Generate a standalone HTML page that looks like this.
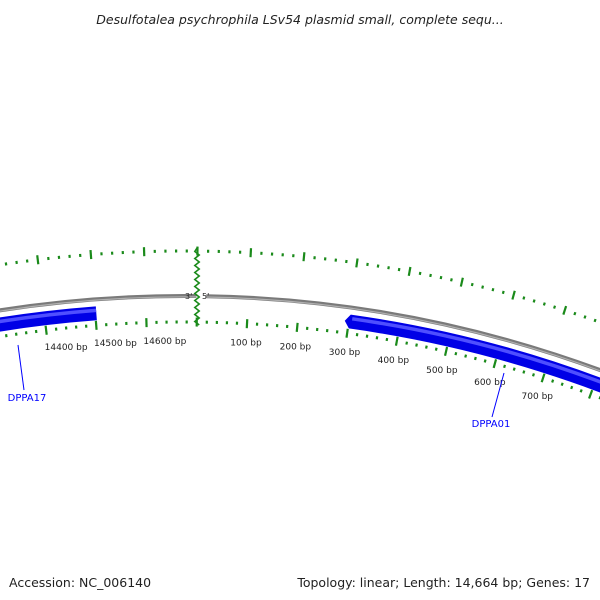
<!DOCTYPE html>
<html><head><meta charset="utf-8"><style>
body{margin:0;background:#fff}
svg{display:block;font-family:"DejaVu Sans","Liberation Sans",sans-serif}
</style></head><body>
<svg id="c" width="600" height="600" viewBox="0 0 600 600">
<text x="300" y="24" text-anchor="middle" font-size="12.5" font-style="italic" fill="#222">Desulfotalea psychrophila LSv54 plasmid small, complete sequ...</text>
<text x="9" y="587" font-size="12.5" fill="#222">Accession: NC_006140</text>
<text x="590" y="587" text-anchor="end" font-size="12.5" fill="#222">Topology: linear; Length: 14,664 bp; Genes: 17</text>
<g id="g"></g>
</svg>
<script>
const seqLength = 14664;
const tickLabels = [14400, 14500, 14600, 100, 200, 300, 400, 500, 600, 700];
const geneNames = ["DPPA17", "DPPA01"];
const geneStarts = [13800, 302];
const geneEnds = [14466, 1400];
const geneStrands = [1, -1];

const NS = "http://www.w3.org/2000/svg";
const g = document.getElementById("g");
const cx = 185, cy = 1496, R = 1200, th0 = 0.01;
function ang(bp){ if (bp > seqLength/2) bp -= seqLength; return th0 + bp/seqLength*2*Math.PI; }
function pt(bp, r){ const a = ang(bp); return [cx + r*Math.sin(a), cy - r*Math.cos(a)]; }
function mk(tag, attrs){ const e = document.createElementNS(NS, tag); for (const k in attrs) e.setAttribute(k, attrs[k]); g.appendChild(e); return e; }
function arc(b1, b2, r){ const p = pt(b1, r), q = pt(b2, r); return `M${p[0]},${p[1]} A${r},${r} 0 0 1 ${q[0]},${q[1]}`; }

// backbone
let e = mk("path", {d: arc(-1300, -1, R), stroke: "#7a7a7a", "stroke-width": 4, fill: "none"});


e = mk("path", {d: arc(-1300, -1, R-0.8), stroke: "#b0b0b0", "stroke-width": 1.2, fill: "none"});


e = mk("path", {d: arc(18, 1400, R), stroke: "#7a7a7a", "stroke-width": 4, fill: "none"});


e = mk("path", {d: arc(18, 1400, R-0.8), stroke: "#b0b0b0", "stroke-width": 1.2, fill: "none"});



// ticks
for (let bp = -1300; bp <= 1400; bp += 20) {
  const major = bp % 100 === 0;
  const b = (bp + seqLength) % seqLength;
  [[1174, major ? 4.5 : 1.5], [1245, major ? 4.5 : 1.5]].forEach(([r, h], i) => {
    const p = pt(b, r - h), q = pt(b, r + h);
    const t = mk("line", {x1: p[0], y1: p[1], x2: q[0], y2: q[1], stroke: "#1a8a1a", "stroke-width": 2.2});
    
    
  });
}
tickLabels.forEach(v => {
  const p = pt(v, 1155);
  const t = mk("text", {x: p[0], y: p[1] + 3, "text-anchor": "middle", "font-size": "9", fill: "#222"});
  t.textContent = v + " bp";
  
  
});

// break
let d = "M197,248";
for (let y = 248, i = 0; y < 322; y += 3.5, i++) d += ` L${197 + (i % 2 ? 2.2 : -2.2)},${y + 3.5}`;
e = mk("path", {d: d, stroke: "#1a8a1a", "stroke-width": 1.6, fill: "none"});


e = mk("text", {x: 185, y: 299, "font-size": "8", fill: "#222"}); e.textContent = "3'";


e = mk("text", {x: 202, y: 299, "font-size": "8", fill: "#222"}); e.textContent = "5'";



// genes
geneNames.forEach((n, i) => {
  const s = geneStarts[i], en = geneEnds[i], rIn = 1179, rOut = 1193;
  const a1 = pt(s, rOut), a2 = pt(en, rOut), b2 = pt(en, rIn), b1 = pt(s, rIn);
  let path;
  if (geneStrands[i] < 0) {
    const tip = pt(s - 10, (rIn + rOut) / 2);
    path = `M${a1[0]},${a1[1]} A${rOut},${rOut} 0 0 1 ${a2[0]},${a2[1]} L${b2[0]},${b2[1]} A${rIn},${rIn} 0 0 0 ${b1[0]},${b1[1]} L${tip[0]},${tip[1]} Z`;
  } else {
    path = `M${a1[0]},${a1[1]} A${rOut},${rOut} 0 0 1 ${a2[0]},${a2[1]} L${b2[0]},${b2[1]} A${rIn},${rIn} 0 0 0 ${b1[0]},${b1[1]} Z`;
  }
  const ge = mk("path", {d: path, fill: "#0000e6"});
  
  
  const hl = mk("path", {d: arc(s + 4, en, 1189), stroke: "#4f4fff", "stroke-width": 3.5, fill: "none"});
  
  
});
// gene labels
[[18,345,24,390,27,401,"DPPA17"],[504,373,492,417,491,427,"DPPA01"]].forEach(([x1,y1,x2,y2,tx,ty,n]) => {
  const l = mk("line", {x1, y1, x2, y2, stroke: "#0000ff", "stroke-width": 1});
  
  
  const t = mk("text", {x: tx, y: ty, "text-anchor": "middle", "font-size": "10", fill: "#0000ff"});
  t.textContent = n;
  
  
});
</script>
</body></html>
